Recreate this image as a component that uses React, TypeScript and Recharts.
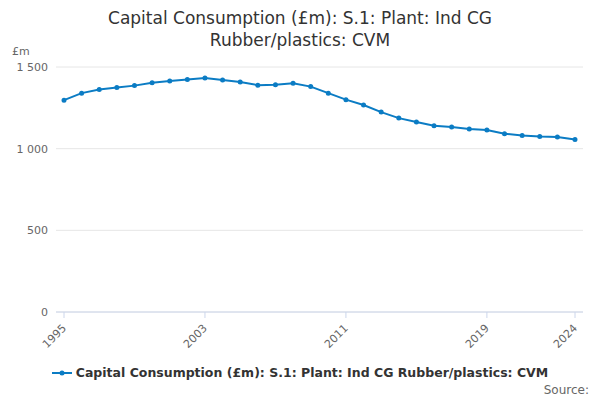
import { LineChart, Line, XAxis, YAxis, CartesianGrid } from "recharts";

const years = [
  1995, 1996, 1997, 1998, 1999, 2000, 2001, 2002, 2003, 2004, 2005, 2006, 2007, 2008, 2009,
  2010, 2011, 2012, 2013, 2014, 2015, 2016, 2017, 2018, 2019, 2020, 2021, 2022, 2023, 2024,
];
const values = [
  1297, 1340, 1362, 1374, 1386, 1404, 1414, 1423, 1432, 1420, 1408, 1389, 1392, 1401, 1380,
  1340, 1300, 1267, 1224, 1187, 1163, 1141, 1132, 1120, 1114, 1092, 1080, 1074, 1071, 1056,
];
const xTicks = [1995, 2003, 2011, 2019, 2024];
const yTicks = [0, 500, 1000, 1500];

const seriesName = "Capital Consumption (£m): S.1: Plant: Ind CG Rubber/plastics: CVM";
const color = "#0b7cc4";
const data = years.map((year, i) => ({ year, value: values[i] }));
const font = "'DejaVu Sans', sans-serif";

const fmt = (v: number) => (v >= 1000 ? `${Math.floor(v / 1000)} ${String(v % 1000).padStart(3, "0")}` : String(v));

const XTick = (props: any) => {
  const { x, y, payload } = props;
  return (
    <text x={x} y={y + 6} textAnchor="end" fontSize={11} fill="#666" fontFamily={font}
      transform={`rotate(-45 ${x} ${y + 6})`} dy={4}>
      {payload.value}
    </text>
  );
};

export default function App() {
  return (
    <div style={{ position: "fixed", left: 0, top: 0, width: 600, height: 400, background: "#fff", fontFamily: font }}>
      <div style={{ position: "absolute", top: 7, width: 600, textAlign: "center", fontSize: 17, lineHeight: "22px", color: "#333" }}>
        Capital Consumption (£m): S.1: Plant: Ind CG
        <br />
        Rubber/plastics: CVM
      </div>
      <div style={{ position: "absolute", left: 12, top: 45, fontSize: 11, color: "#666" }}>£m</div>
      <LineChart width={600} height={400} data={data} margin={{ top: 67, right: 17, left: 0, bottom: 0 }}>
        <CartesianGrid vertical={false} stroke="#e6e6e6" />
        <XAxis dataKey="year" type="number" domain={[1995, 2024]} ticks={xTicks} padding={{ left: 8, right: 8 }}
          tick={<XTick />} stroke="#ccd6eb" tickSize={6} height={88} />
        <YAxis domain={[0, 1500]} ticks={yTicks} width={56} axisLine={false} tickLine={false}
          tickFormatter={fmt} tick={{ fontSize: 11, fill: "#666", fontFamily: font }} />
        <Line dataKey="value" stroke={color} strokeWidth={2} dot={{ r: 1.5, fill: color, stroke: color }}
          isAnimationActive={false} />
      </LineChart>
      <div style={{ position: "absolute", top: 365, width: 600, display: "flex", justifyContent: "center", alignItems: "center", fontSize: 12.5, fontWeight: "bold", color: "#333" }}>
        <svg width={20} height={10} style={{ marginRight: 4 }}>
          <line x1={0} y1={5} x2={20} y2={5} stroke={color} strokeWidth={2} />
          <circle cx={10} cy={5} r={2.5} fill={color} />
        </svg>
        {seriesName}
      </div>
      <div style={{ position: "absolute", right: 11, top: 383, fontSize: 12, color: "#666" }}>Source:</div>
    </div>
  );
}
